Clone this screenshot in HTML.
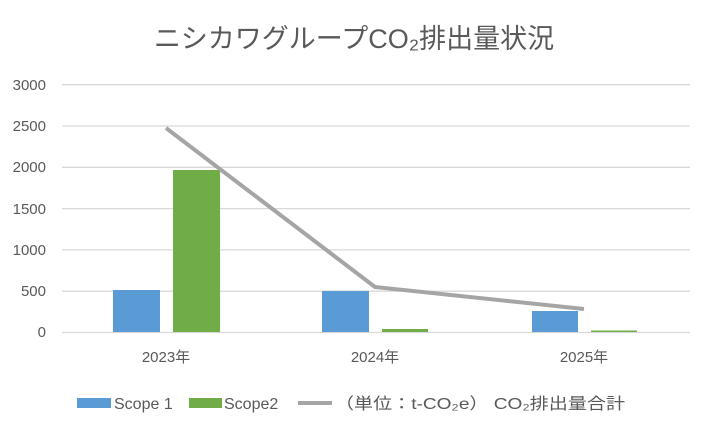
<!DOCTYPE html>
<html><head><meta charset="utf-8"><style>
body{margin:0;background:#fff;}
svg{display:block;font-family:"Liberation Sans","Noto Sans CJK JP",sans-serif;}
</style></head><body>
<svg width="708" height="430" viewBox="0 0 708 430">
<rect width="708" height="430" fill="#fff"/>
<text x="354" y="48" text-anchor="middle" font-size="27" fill="#595959">ニシカワグループCO₂排出量状況</text>
<g stroke="#d9d9d9" stroke-width="1.3">
<line x1="62" x2="690" y1="84.7" y2="84.7"/>
<line x1="62" x2="690" y1="126" y2="126"/>
<line x1="62" x2="690" y1="167.3" y2="167.3"/>
<line x1="62" x2="690" y1="208.6" y2="208.6"/>
<line x1="62" x2="690" y1="249.9" y2="249.9"/>
<line x1="62" x2="690" y1="291.2" y2="291.2"/>
<line x1="62" x2="690" y1="332.5" y2="332.5"/>
</g>
<g font-size="15" fill="#595959" text-anchor="end">
<text x="46" y="90">3000</text>
<text x="46" y="131">2500</text>
<text x="46" y="172">2000</text>
<text x="46" y="214">1500</text>
<text x="46" y="255">1000</text>
<text x="46" y="296">500</text>
<text x="46" y="337">0</text>
</g>
<g fill="#5b9bd5">
<rect x="113" y="290" width="47" height="42"/>
<rect x="322" y="291" width="47" height="41"/>
<rect x="532" y="311" width="46" height="21"/>
</g>
<g fill="#70ad47">
<rect x="173" y="170" width="47" height="162"/>
<rect x="382" y="329" width="46" height="3"/>
<rect x="591" y="330.5" width="46" height="1.5"/>
</g>
<polyline points="166,128 375,287 584,309" fill="none" stroke="#a5a5a5" stroke-width="4" stroke-linejoin="round"/>
<g font-size="15" fill="#595959" text-anchor="middle">
<text x="166" y="362">2023年</text>
<text x="375" y="362">2024年</text>
<text x="584" y="362">2025年</text>
</g>
<rect x="77" y="398" width="34" height="10" fill="#5b9bd5"/>
<text x="114" y="409" font-size="16" fill="#595959">Scope 1</text>
<rect x="189" y="398" width="33" height="10" fill="#70ad47"/>
<text x="224" y="409" font-size="16" fill="#595959">Scope2</text>
<line x1="298" x2="332" y1="403" y2="403" stroke="#a5a5a5" stroke-width="4"/>
<text x="335" y="409" font-size="16" fill="#595959" textLength="290" lengthAdjust="spacingAndGlyphs">（単位：t-CO₂e） CO₂排出量合計</text>
</svg>
</body></html>
